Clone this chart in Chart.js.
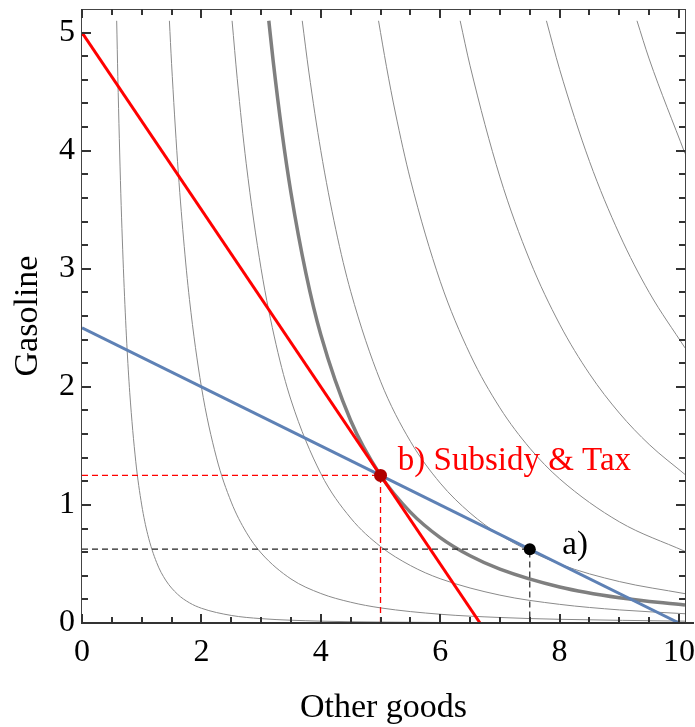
<!DOCTYPE html>
<html>
<head>
<meta charset="utf-8">
<script src="https://cdn.jsdelivr.net/npm/chart.js@4.4.0/dist/chart.umd.min.js"></script>
<style>
  html, body { margin: 0; padding: 0; background: #fff; }
</style>
</head>
<body>
<canvas id="myChart" width="695" height="727"></canvas>
<script>
// tick values
const xMajorTicks = [0, 2, 4, 6, 8, 10];
const xTickMarks = [0, 0.5, 1, 1.5, 2, 2.5, 3, 3.5, 4, 4.5, 5, 5.5, 6, 6.5, 7, 7.5, 8, 8.5, 9, 9.5, 10];
const yMajorTicks = [0, 1, 2, 3, 4, 5];
const yTickMarks = [0, 0.2, 0.4, 0.6, 0.8, 1, 1.2, 1.4, 1.6, 1.8, 2, 2.2, 2.4, 2.6, 2.8, 3, 3.2, 3.4, 3.6, 3.8, 4, 4.2, 4.4, 4.6, 4.8, 5];

// budget lines [x, y]
const budgetSubsidyTax = [[0, 5], [6.667, 0]];
const budgetOriginal = [[0, 2.5], [10, 0]];

// chosen bundles
const bundleB = [[5, 1.25]];
const bundleA = [[7.5, 0.625]];
const guideB = [[0, 1.25], [5, 1.25], [5, 0]];
const guideA = [[0, 0.625], [7.5, 0.625], [7.5, 0]];

// indifference curves [x, y]
const curveMain = [[3.129, 5.1], [3.2, 4.768], [3.35, 4.156], [3.5, 3.644], [3.75, 2.963], [4.0, 2.441], [4.5, 1.715], [5.0, 1.25], [5.5, 0.939], [6.0, 0.723], [6.5, 0.569], [7.0, 0.456], [8.0, 0.305], [9.0, 0.214], [10.1, 0.152]];
const curve1 = [[0.581, 5.1], [0.6, 4.63], [0.65, 3.64], [0.7, 2.92], [0.75, 2.37], [0.8, 1.95], [0.9, 1.37], [1.0, 1.0], [1.1, 0.751], [1.25, 0.512], [1.4, 0.364], [1.6, 0.244], [1.8, 0.171], [2.0, 0.125], [2.5, 0.064], [3.0, 0.037], [4.0, 0.0156], [5.0, 0.008], [7.0, 0.0029], [10.1, 0.001]];
const curve2 = [[1.464, 5.1], [1.5, 4.74], [1.6, 3.91], [1.7, 3.26], [1.8, 2.74], [2.0, 2.0], [2.25, 1.405], [2.5, 1.024], [2.75, 0.769], [3.0, 0.593], [3.5, 0.373], [4.0, 0.25], [4.5, 0.176], [5.0, 0.128], [6.0, 0.074], [7.0, 0.0466], [8.0, 0.0313], [10.1, 0.0155]];
const curve3 = [[2.514, 5.1], [2.6, 4.61], [2.75, 3.894], [3.0, 3.0], [3.25, 2.36], [3.5, 1.889], [4.0, 1.266], [4.5, 0.889], [5.0, 0.648], [5.5, 0.487], [6.0, 0.375], [7.0, 0.236], [8.0, 0.158], [9.0, 0.111], [10.1, 0.0786]];
const curve4 = [[3.689, 5.1], [3.8, 4.666], [4.0, 4.0], [4.25, 3.335], [4.5, 2.809], [5.0, 2.048], [5.5, 1.539], [6.0, 1.185], [6.5, 0.932], [7.0, 0.746], [8.0, 0.5], [9.0, 0.351], [10.1, 0.2485]];
const curve5 = [[4.967, 5.1], [5.1, 4.711], [5.25, 4.319], [5.5, 3.757], [6.0, 2.894], [6.5, 2.276], [7.0, 1.822], [7.5, 1.481], [8.0, 1.221], [9.0, 0.857], [10.1, 0.6066]];
const curve6 = [[6.334, 5.1], [6.5, 4.719], [7.0, 3.778], [7.5, 3.072], [8.0, 2.531], [8.5, 2.11], [9.0, 1.778], [9.5, 1.512], [10.1, 1.258]];
const curve7 = [[7.779, 5.1], [8.0, 4.689], [8.5, 3.91], [9.0, 3.294], [9.5, 2.8], [10.1, 2.33]];
const curve8 = [[9.296, 5.1], [9.5, 4.777], [10.1, 3.976]];

// text labels
const noteText = ['b) Subsidy & Tax', 'a)'];
const noteX = [5.29, 8.045];
const noteY = [1.296, 0.582];
const noteColor = ['#ff0000', '#000000'];

const serif = "'Liberation Serif', 'DejaVu Serif', serif";
const toXY = pts => pts.map(p => ({x: p[0], y: p[1]}));

const line = (pts, color, width, extra) => Object.assign({
  data: toXY(pts),
  showLine: true,
  borderColor: color,
  borderWidth: width,
  pointRadius: 0,
  fill: false,
  cubicInterpolationMode: 'monotone'
}, extra || {});

const thin = '#8a8a8a';

const framePlugin = {
  id: 'frame',
  afterDraw(chart) {
    const ctx = chart.ctx;
    const a = chart.chartArea;
    const xs = chart.scales.x;
    const ys = chart.scales.y;
    const L = Math.round(a.left), R = Math.round(a.right);
    const T = Math.round(a.top), B = Math.round(a.bottom);
    ctx.save();
    ctx.setLineDash([]);
    ctx.fillStyle = '#444';
    // frame
    ctx.fillRect(L - 1, T, R - L + 1, 1);
    ctx.fillRect(L - 1, T, 1, B - T);
    ctx.fillRect(R, T, 1, B - T);
    // tick marks, pointing inward on all four sides
    ctx.fillStyle = '#333';
    for (let i = 0; i < xTickMarks.length; i++) {
      const v = xTickMarks[i];
      const px = Math.round(xs.getPixelForValue(v)) - 1;
      const len = xMajorTicks.indexOf(v) >= 0 ? 9 : 6;
      ctx.fillRect(px, B - len, 2, len);
      ctx.fillRect(px, T, 2, len);
    }
    for (let i = 0; i < yTickMarks.length; i++) {
      const v = yTickMarks[i];
      const py = Math.round(ys.getPixelForValue(v)) - 1;
      const len = yMajorTicks.indexOf(v) >= 0 ? 9 : 6;
      ctx.fillRect(L, py, len, 2);
      ctx.fillRect(R - len, py, len, 2);
    }
    // x axis line
    ctx.fillStyle = '#333';
    ctx.fillRect(L - 1, B - 1, R - L + 10, 2);
    // notes
    ctx.font = '33px ' + serif;
    ctx.textBaseline = 'alphabetic';
    ctx.textAlign = 'left';
    noteText.forEach((t, i) => {
      ctx.fillStyle = noteColor[i];
      ctx.fillText(t, xs.getPixelForValue(noteX[i]), ys.getPixelForValue(noteY[i]));
    });
    ctx.restore();
  }
};

const tickFont = {family: serif, size: 32};
const titleFont = {family: serif, size: 34};

const config = {
  type: 'scatter',
  data: {
    datasets: [
      {data: toXY(bundleB), pointRadius: 6.5, pointBackgroundColor: '#b00000', pointBorderWidth: 0, showLine: false},
      {data: toXY(bundleA), pointRadius: 6, pointBackgroundColor: '#000', pointBorderWidth: 0, showLine: false},
      line(guideB, '#ff0000', 1.3, {borderDash: [6, 4], cubicInterpolationMode: 'default', tension: 0}),
      line(guideA, '#222', 1.2, {borderDash: [6, 4], cubicInterpolationMode: 'default', tension: 0}),
      line(budgetSubsidyTax, '#ff0000', 3),
      line(budgetOriginal, '#5e81b5', 3),
      line(curveMain, '#7f7f7f', 3.5),
      line(curve1, thin, 1),
      line(curve2, thin, 1),
      line(curve3, thin, 1),
      line(curve4, thin, 1),
      line(curve5, thin, 1),
      line(curve6, thin, 1),
      line(curve7, thin, 1),
      line(curve8, thin, 1)
    ]
  },
  options: {
    responsive: false,
    animation: false,
    layout: {
      padding: {top: 9, right: 10, left: 0, bottom: 0}
    },
    plugins: {
      legend: {display: false},
      tooltip: {enabled: false}
    },
    scales: {
      x: {
        type: 'linear',
        min: 0,
        max: 10.1,
        afterBuildTicks: s => { s.ticks = xMajorTicks.map(v => ({value: v})); },
        afterFit: s => { s.height = 104; s.paddingLeft = 0; s.paddingRight = 0; },
        ticks: {font: tickFont, color: '#000', padding: 10, maxRotation: 0, autoSkip: false},
        grid: {display: false, drawTicks: false},
        border: {display: false},
        title: {display: true, text: 'Other goods', font: titleFont, color: '#000', padding: {top: 0, bottom: -1}}
      },
      y: {
        type: 'linear',
        min: 0,
        max: 5.2,
        afterBuildTicks: s => { s.ticks = yMajorTicks.map(v => ({value: v})); },
        afterFit: s => { s.width = 82; s.paddingTop = 0; s.paddingBottom = 0; },
        ticks: {font: tickFont, color: '#000', padding: 7, autoSkip: false},
        grid: {display: false, drawTicks: false},
        border: {display: false},
        title: {display: true, text: 'Gasoline', font: titleFont, color: '#000', padding: {top: 8, bottom: 0}}
      }
    }
  },
  plugins: [framePlugin]
};

var myChart = new Chart(
  document.getElementById('myChart'),
  config
);
</script>
</body>
</html>
